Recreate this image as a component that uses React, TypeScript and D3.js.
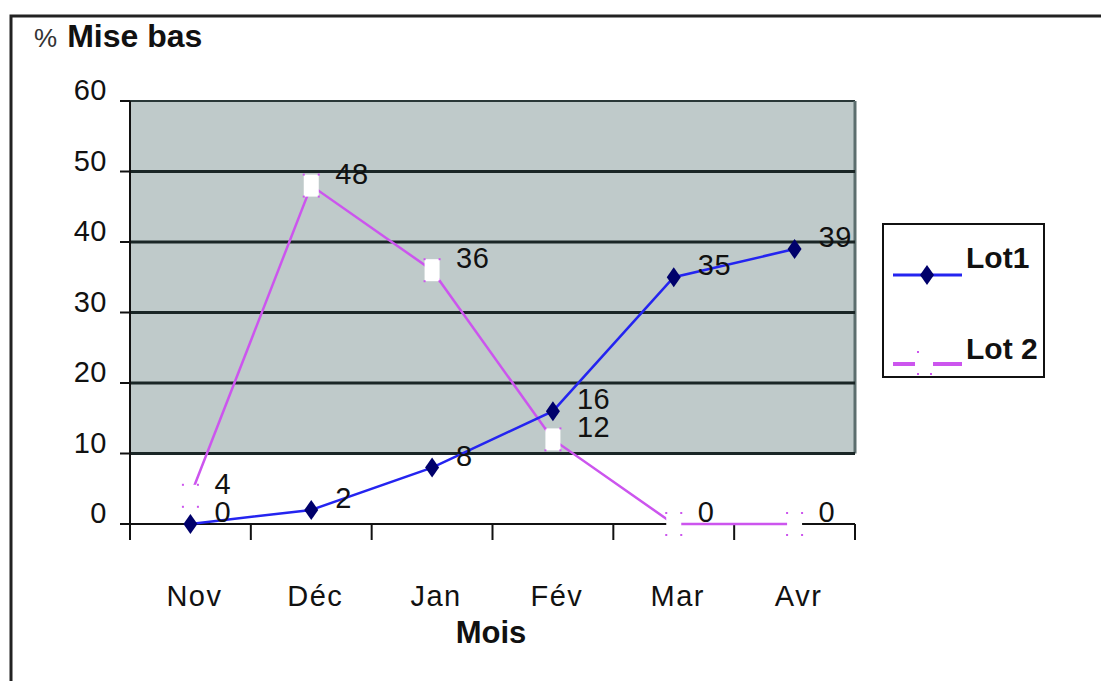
import React from "react";
import * as d3 from "d3";

const months = ["Nov", "Déc", "Jan", "Fév", "Mar", "Avr"];
const lot1 = [0, 2, 8, 16, 35, 39];
const lot2 = [4, 48, 36, 12, 0, 0];
const yTicks = [0, 10, 20, 30, 40, 50, 60];
const seriesNames = ["Lot1", "Lot 2"];

const W = 1101;
const H = 681;
const plot = { left: 130, right: 855, top: 101, bottom: 524 };
const FONT = "'Liberation Sans', Arial, sans-serif";

const BLUE = "#2424f0";
const NAVY = "#00006b";
const PINK = "#cc55ee";

function Diamond({ x, y }: { x: number; y: number }) {
  return <path d={`M${x},${y - 10}L${x + 7},${y}L${x},${y + 10}L${x - 7},${y}Z`} fill={NAVY} />;
}

function Square({ x, y }: { x: number; y: number }) {
  const w = 15, h = 22;
  const corners = [
    [x - w / 2, y - h / 2], [x + w / 2, y - h / 2],
    [x - w / 2, y + h / 2], [x + w / 2, y + h / 2],
  ];
  return (
    <g>
      <rect x={x - w / 2} y={y - h / 2} width={w} height={h} fill="#fff" />
      {corners.map(([cx, cy], i) => (
        <rect key={i} x={cx - 1} y={cy - 1} width={2} height={2} fill={PINK} />
      ))}
    </g>
  );
}

export default function App() {
  const x = d3.scaleBand<string>().domain(months).range([plot.left, plot.right]);
  const y = d3.scaleLinear().domain([0, 60]).range([plot.bottom, plot.top]);
  const cx = (m: string) => (x(m) ?? 0) + x.bandwidth() / 2;

  const line = d3
    .line<number>()
    .x((_, i) => cx(months[i]))
    .y((d) => y(d));

  const boundaries = [...months.map((m) => x(m) ?? 0), plot.right];
  const labelFont = { fontSize: 29, letterSpacing: 0.5 };

  return (
    <svg
      width={W}
      height={H}
      style={{ position: "absolute", left: 0, top: 0, display: "block", background: "#fff" }}
      fontFamily={FONT}
    >
      {/* outer frame */}
      <rect x={11} y={16} width={W + 20} height={H + 20} fill="none" stroke="#222" strokeWidth={3} />

      {/* title */}
      <text x={34} y={47} fill="#111">
        <tspan fontSize={26} fill="#333">%</tspan>
        <tspan dx={10} fontSize={32} fontWeight="bold">Mise bas</tspan>
      </text>

      {/* plot background: shaded above 10 */}
      <rect x={plot.left} y={y(60)} width={plot.right - plot.left} height={y(10) - y(60)} fill="#bfcaca" />
      <line x1={plot.left} x2={plot.right} y1={y(60)} y2={y(60)} stroke="#2a3838" strokeWidth={2} />
      <line x1={plot.right} x2={plot.right} y1={y(60)} y2={y(10)} stroke="#5c6e6e" strokeWidth={3} />

      {/* gridlines */}
      {yTicks.filter((t) => t > 0 && t < 60).map((t) => (
        <line key={t} x1={plot.left} x2={plot.right} y1={y(t)} y2={y(t)} stroke="#1a2626" strokeWidth={3} />
      ))}

      {/* y axis */}
      <line x1={plot.left} x2={plot.left} y1={plot.top} y2={plot.bottom + 16} stroke="#111" strokeWidth={2} />
      {yTicks.map((t) => (
        <g key={t}>
          <line x1={plot.left - 10} x2={plot.left} y1={y(t)} y2={y(t)} stroke="#111" strokeWidth={2} />
          <text x={107} y={y(t) - 1} textAnchor="end" {...labelFont} fill="#111">{t}</text>
        </g>
      ))}

      {/* x axis */}
      <line x1={plot.left} x2={plot.right} y1={plot.bottom} y2={plot.bottom} stroke="#111" strokeWidth={2} />
      {boundaries.map((b, i) => (
        <line key={i} x1={b} x2={b} y1={plot.bottom} y2={plot.bottom + 16} stroke="#111" strokeWidth={2} />
      ))}
      {months.map((m) => (
        <text key={m} x={cx(m) + 4} y={606} textAnchor="middle" fontSize={29} letterSpacing={1.5} fill="#111">{m}</text>
      ))}
      <text x={491} y={643} textAnchor="middle" fontSize={31} fontWeight="bold" fill="#111">Mois</text>

      {/* Lot 2 */}
      <path d={line(lot2) ?? ""} fill="none" stroke={PINK} strokeWidth={2.5} />
      {lot2.map((v, i) => (
        <Square key={i} x={cx(months[i])} y={y(v)} />
      ))}

      {/* Lot1 */}
      <path d={line(lot1) ?? ""} fill="none" stroke={BLUE} strokeWidth={2.5} />
      {lot1.map((v, i) => (
        <Diamond key={i} x={cx(months[i])} y={y(v)} />
      ))}

      {/* data labels */}
      {lot1.map((v, i) => (
        <text key={`a${i}`} x={cx(months[i]) + 24} y={y(v) - 2} {...labelFont} fill="#111">{v}</text>
      ))}
      {lot2.map((v, i) => (
        <text key={`b${i}`} x={cx(months[i]) + 24} y={y(v) - 2} {...labelFont} fill="#111">{v}</text>
      ))}

      {/* legend */}
      <rect x={883} y={224} width={161} height={153} fill="#fff" stroke="#111" strokeWidth={2} />
      <line x1={893} x2={962} y1={275} y2={275} stroke={BLUE} strokeWidth={3} />
      <Diamond x={927} y={275} />
      <text x={966} y={268} fontSize={30} fontWeight="bold" fill="#111">{seriesNames[0]}</text>
      <line x1={893} x2={915} y1={364} y2={364} stroke={PINK} strokeWidth={4} />
      <line x1={933} x2={962} y1={364} y2={364} stroke={PINK} strokeWidth={4} />
      {[[918, 352], [918, 374], [931, 374]].map(([px, py], i) => (
        <rect key={i} x={px - 1} y={py - 1} width={2} height={2} fill={PINK} />
      ))}
      <text x={966} y={359} fontSize={30} fontWeight="bold" fill="#111">{seriesNames[1]}</text>
    </svg>
  );
}
